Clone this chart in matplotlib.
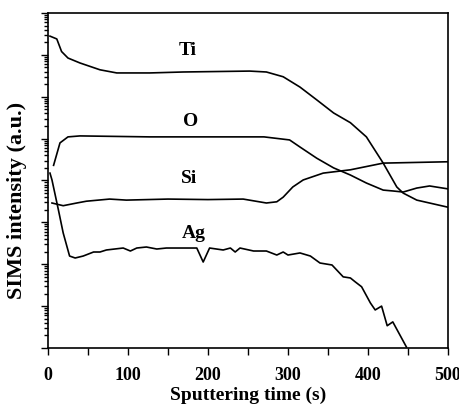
import numpy as np
import matplotlib.pyplot as plt
from matplotlib.ticker import MultipleLocator, LogLocator, NullFormatter

# temps de pulverisation (s) et intensites SIMS
t_ti = [2.5, 11, 17, 25, 40, 65, 86, 127, 169, 252, 273, 294, 315, 336, 357, 378, 398, 419, 436, 444, 461, 500]
ti = [2.8e7, 2.4e7, 1.2e7, 8.4e6, 6.4e6, 4.4e6, 3.7e6, 3.7e6, 3.9e6, 4.1e6, 3.9e6, 3.0e6, 1.7e6, 8.4e5,
      4.1e5, 2.4e5, 1.1e5, 2.6e4, 7.0e3, 5.0e3, 3.4e3, 2.3e3]

t_o = [7, 15, 25, 40, 127, 200, 270, 302, 315, 336, 357, 378, 398, 419, 432, 444, 461, 477, 500]
o = [2.3e4, 7.9e4, 1.1e5, 1.16e5, 1.1e5, 1.1e5, 1.1e5, 9.3e4, 6.3e4, 3.4e4, 2.0e4, 1.35e4, 8.7e3, 5.9e3,
     5.6e3, 5.3e3, 6.6e3, 7.4e3, 6.3e3]

t_si = [5, 19, 36, 48, 77, 98, 150, 200, 244, 273, 286, 294, 306, 319, 344, 378, 419, 500]
si = [2.9e3, 2.5e3, 2.9e3, 3.2e3, 3.6e3, 3.4e3, 3.6e3, 3.5e3, 3.6e3, 2.9e3, 3.1e3, 4.0e3, 7.0e3, 1.03e4,
      1.5e4, 1.8e4, 2.6e4, 2.8e4]

t_ag = [2.5, 5, 13, 19, 27, 34, 44, 57, 65, 73, 94, 103, 111, 123, 136, 148, 186, 194, 202, 219, 228, 234,
        240, 257, 273, 286, 294, 300, 315, 328, 340, 355, 369, 378, 384, 392, 403, 409, 417, 424, 431, 448]
ag = [1.5e4, 1.03e4, 2.0e3, 560, 157, 141, 157, 196, 196, 219, 244, 207, 244, 258, 231, 244, 244, 113, 244,
      219, 244, 196, 244, 207, 207, 166, 196, 166, 186, 157, 107, 96, 50, 47, 38, 29, 11.9, 8.1, 10, 3.4,
      4.2, 1.06]

# etiquettes des courbes (nom, t, intensite)
labels = [("Ti", 175, 1.3e7), ("O", 178, 2.6e5), ("Si", 176, 1.09e4), ("Ag", 182, 530)]

plt.rcParams['font.family'] = ['Liberation Serif', 'DejaVu Serif']
plt.rcParams['font.weight'] = 'bold'

fig = plt.figure(figsize=(4.6, 4.11), dpi=100)
ax = fig.add_axes([0.1043, 0.1533, 0.8696, 0.8151])

for t, v in [(t_ti, ti), (t_o, o), (t_si, si), (t_ag, ag)]:
    ax.plot(t, v, color='black', lw=1.2)

for name, t, v in labels:
    ax.text(t, v, name, ha='center', va='center', fontsize=14, fontweight='bold')

ax.set_yscale('log')
ax.set_xlim(0, 500)
ax.set_ylim(1, 1e8)
ax.xaxis.set_major_locator(MultipleLocator(100))
ax.xaxis.set_minor_locator(MultipleLocator(50))
ax.yaxis.set_major_locator(LogLocator(base=10, numticks=20))
ax.yaxis.set_minor_locator(LogLocator(base=10, subs=np.arange(2, 10), numticks=20))
ax.yaxis.set_major_formatter(NullFormatter())
ax.yaxis.set_minor_formatter(NullFormatter())
ax.tick_params(which='both', direction='out', width=1, labelsize=13)
ax.tick_params(which='major', length=5)
ax.tick_params(axis='x', which='minor', length=5)
ax.tick_params(axis='x', which='major', pad=9)
ax.tick_params(axis='y', which='minor', length=3)
for lab in ax.get_xticklabels():
    lab.set_fontweight('bold')
for s in ax.spines.values():
    s.set_linewidth(1.2)

ax.set_xlabel("Sputtering time (s)", fontsize=14, fontweight='bold')
ax.xaxis.set_label_coords(0.5, -0.115)
ax.set_ylabel("SIMS intensity (a.u.)", fontsize=16, fontweight='bold')
ax.yaxis.set_label_coords(-0.052, 0.44)

fig.savefig("out.png", dpi=100)
